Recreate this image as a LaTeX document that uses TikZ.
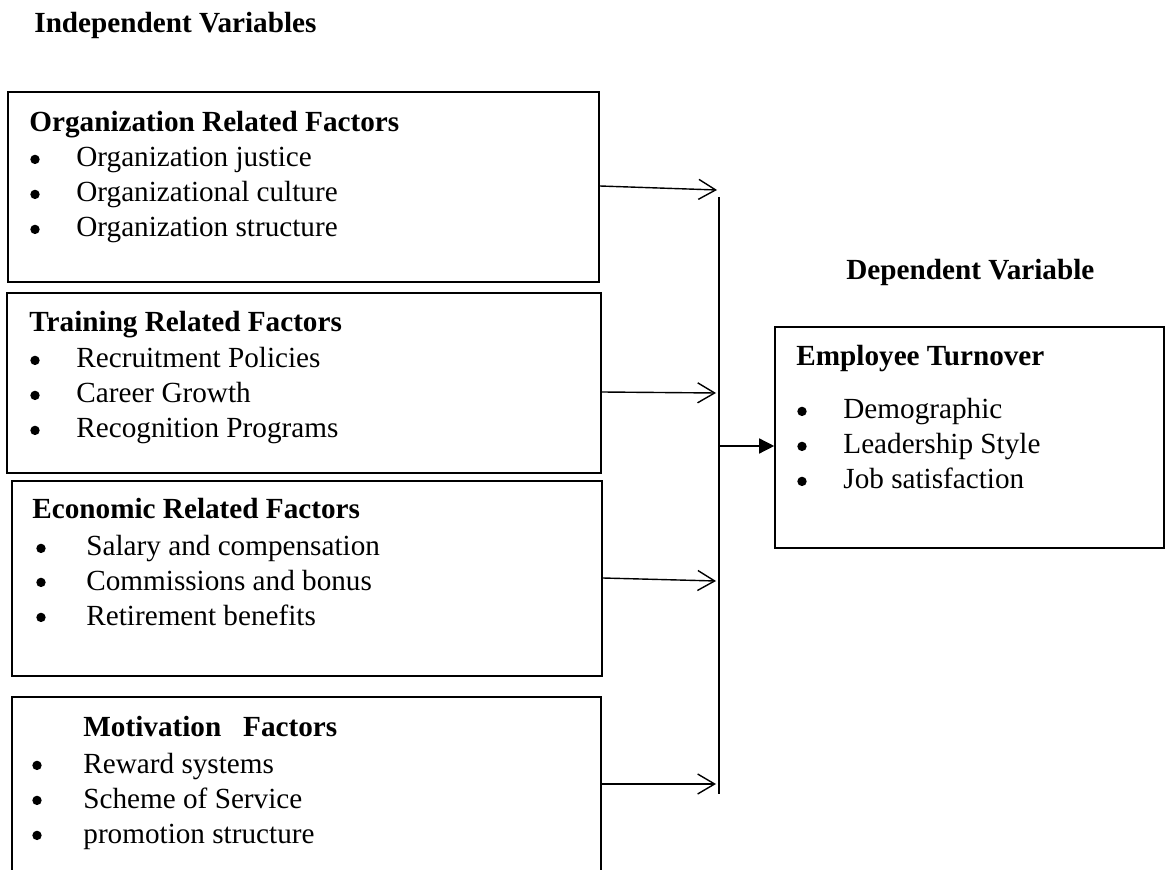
\documentclass[tikz,border=0pt]{standalone}
\usepackage{fontspec}
\setmainfont{Liberation Serif}
\usetikzlibrary{arrows.meta}
\begin{document}
\begin{tikzpicture}[x=0.5pt,y=-0.5pt,
  box/.style={draw, line width=0.8pt, rectangle, inner sep=0pt},
  hd/.style={font=\fontsize{14.6}{17}\selectfont\bfseries, anchor=base west, inner sep=0pt},
  txt/.style={font=\fontsize{14.6}{17}\selectfont, anchor=base west, inner sep=0pt},
  bul/.style={circle, fill=black, inner sep=0pt, minimum size=4.7pt, yshift=3.8pt},
  oarr/.style={line width=0.7pt, -{Straight Barb[length=8.5pt,width=10pt,line width=0.7pt]}},
  farr/.style={line width=0.7pt, -{Triangle[length=7.5pt,width=7.5pt]}}]
\clip (0,0) rectangle (1166,870);
\fill[white] (0,0) rectangle (1166,870);

% headings
\node[hd] (indep) at (34,33) {Independent Variables};
\node[hd] (dep) at (846,280) {Dependent Variable};

% boxes
\node[box, minimum width=295.5pt, minimum height=95pt] (b1) at (303.5,187) {};
\node[box, minimum width=297pt, minimum height=90pt] (b2) at (304,383) {};
\node[box, minimum width=295pt, minimum height=97.5pt] (b3) at (307,578.5) {};
\node[box, minimum width=294.5pt, minimum height=91.5pt] (b4) at (306.5,788.5) {};
\node[box, minimum width=194.5pt, minimum height=110.5pt] (b5) at (969.5,437.5) {};

% box 1
\node[hd] (t1) at (29,132) {Organization Related Factors};
\node[bul] (p11) at (35,167) {};
\node[txt] (i11) at (76,167) {Organization justice};
\node[bul] (p12) at (35,202) {};
\node[txt] (i12) at (76,202) {Organizational culture};
\node[bul] (p13) at (35,237) {};
\node[txt] (i13) at (76,237) {Organization structure};

% box 2
\node[hd] (t2) at (29,332) {Training Related Factors};
\node[bul] (p21) at (35,368) {};
\node[txt] (i21) at (76,368) {Recruitment Policies};
\node[bul] (p22) at (35,403) {};
\node[txt] (i22) at (76,403) {Career Growth};
\node[bul] (p23) at (35,438) {};
\node[txt] (i23) at (76,438) {Recognition Programs};

% box 3
\node[hd] (t3) at (32,519) {Economic Related Factors};
\node[bul] (p31) at (41,556) {};
\node[txt] (i31) at (86,556) {Salary and compensation};
\node[bul] (p32) at (41,590) {};
\node[txt] (i32) at (86,590) {Commissions and bonus};
\node[bul] (p33) at (41,625) {};
\node[txt] (i33) at (86,625) {Retirement benefits};

% box 4
\node[hd] (t4) at (83,736) {Motivation\ \ \ Factors};
\node[bul] (p41) at (37,773) {};
\node[txt] (i41) at (83,773) {Reward systems};
\node[bul] (p42) at (37,808) {};
\node[txt] (i42) at (83,808) {Scheme of Service};
\node[bul] (p43) at (37,843) {};
\node[txt] (i43) at (83,843) {promotion structure};

% box 5
\node[hd] (t5) at (796,366) {Employee Turnover};
\node[bul] (p51) at (802,419) {};
\node[txt] (i51) at (843,419) {Demographic};
\node[bul] (p52) at (802,454) {};
\node[txt] (i52) at (843,454) {Leadership Style};
\node[bul] (p53) at (802,489) {};
\node[txt] (i53) at (843,489) {Job satisfaction};

% collector line
\coordinate (vtop) at (719,197);
\coordinate (vbot) at (719,794);
\coordinate (vmid) at (719,446);
\coordinate (v1) at (717,190);
\coordinate (v2) at (716,393);
\coordinate (v3) at (716,581);
\coordinate (v4) at (716,784);
\draw[line width=0.7pt] (vtop) -- (vbot);

\draw[oarr] (b1.east |- 0,186) -- (v1);
\draw[oarr] (b2.east |- 0,392) -- (v2);
\draw[oarr] (b3.east |- 0,578) -- (v3);
\draw[oarr] (b4.east |- 0,784) -- (v4);
\draw[farr] (vmid) -- (b5.west |- vmid);
\end{tikzpicture}
\end{document}
